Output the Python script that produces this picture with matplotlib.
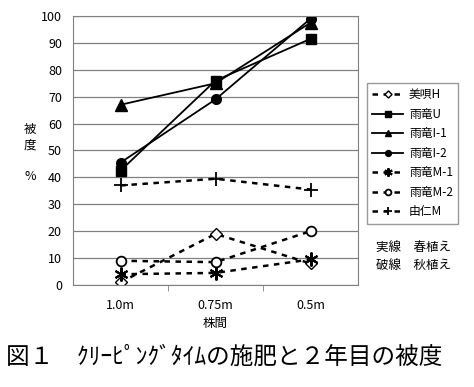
import numpy as np
import matplotlib.pyplot as plt

plt.rcParams['font.family'] = ['Noto Sans CJK JP', 'DejaVu Sans']

categories = ["1.0m", "0.75m", "0.5m"]
series_names = ["美唄H", "雨竜U", "雨竜I-1", "雨竜I-2", "雨竜M-1", "雨竜M-2", "由仁M"]
bibai_h = [1, 19, 8]
uryu_u = [42.5, 76, 91.5]
uryu_i1 = [67, 75, 97.5]
uryu_i2 = [45.5, 69, 99]
uryu_m1 = [4, 4.5, 9.5]
uryu_m2 = [9, 8.5, 20]
yuni_m = [37, 39.5, 35.5]


def main():
    fig = plt.figure(figsize=(4.74, 3.87), dpi=100)
    ax = fig.add_axes([73 / 474, 1 - 285 / 387, 285 / 474, 269 / 387])
    x = np.arange(len(categories))

    dash = (0, (2.2, 2.2))
    styles = [
        (bibai_h, dict(marker="D", mfc="white", ms=6, ls=dash, lw=1.8)),
        (uryu_u, dict(marker="s", mfc="black", ms=7, ls="-", lw=1.3)),
        (uryu_i1, dict(marker="^", mfc="black", ms=8, ls="-", lw=1.3)),
        (uryu_i2, dict(marker="o", mfc="black", ms=7, ls="-", lw=1.3)),
        (uryu_m1, dict(marker=(6, 2, 0), ms=10, mew=1.5, ls=dash, lw=1.8)),
        (uryu_m2, dict(marker="o", mfc="white", ms=7, mew=1.3, ls=dash, lw=1.8)),
        (yuni_m, dict(marker="+", ms=10, mew=1.3, ls=dash, lw=1.8)),
    ]
    for (vals, st), name in zip(styles, series_names):
        ax.plot(x, vals, color="black", mec="black", label=name, **st)

    ax.set_xlim(-0.5, 2.5)
    ax.set_ylim(0, 100)
    ax.set_yticks(np.arange(0, 101, 10))
    ax.set_xticks(x)
    ax.set_xticklabels(categories, fontsize=9)
    ax.set_xticks([0.5, 1.5], minor=True)
    ax.tick_params(axis="x", which="major", length=0, pad=10)
    ax.tick_params(axis="x", which="minor", length=4, color="gray")
    ax.tick_params(axis="y", length=0, labelsize=9, pad=8)
    ax.grid(axis="y", color="gray", lw=0.9)
    ax.set_axisbelow(True)
    for s in ax.spines.values():
        s.set_color("gray")

    ax.set_xlabel("株間", fontsize=9, labelpad=4)
    fig.text(30 / 474, 1 - 137 / 387, "被\n度", fontsize=9, ha="center", va="center", linespacing=1.3)
    fig.text(30 / 474, 1 - 176 / 387, "%", fontsize=9, ha="center", va="center")

    leg = fig.legend(loc="upper left", bbox_to_anchor=(367 / 474, 1 - 83 / 387),
                     fontsize=8.5, frameon=True, fancybox=False, edgecolor="gray",
                     handlelength=2.6, labelspacing=0.55, borderpad=0.45,
                     handletextpad=0.5, markerscale=0.6, borderaxespad=0)
    leg.get_frame().set_linewidth(1.0)

    fig.text(414 / 474, 1 - 248 / 387, "実線　春植え", fontsize=9, ha="center", va="center")
    fig.text(414 / 474, 1 - 265 / 387, "破線　秋植え", fontsize=9, ha="center", va="center")

    fig.text(6 / 474, 1 - 357 / 387, "図１　ｸﾘｰﾋﾟﾝｸﾞﾀｲﾑの施肥と２年目の被度",
             fontsize=17, ha="left", va="center")

    fig.savefig("out.png", dpi=100)


if __name__ == "__main__":
    main()
